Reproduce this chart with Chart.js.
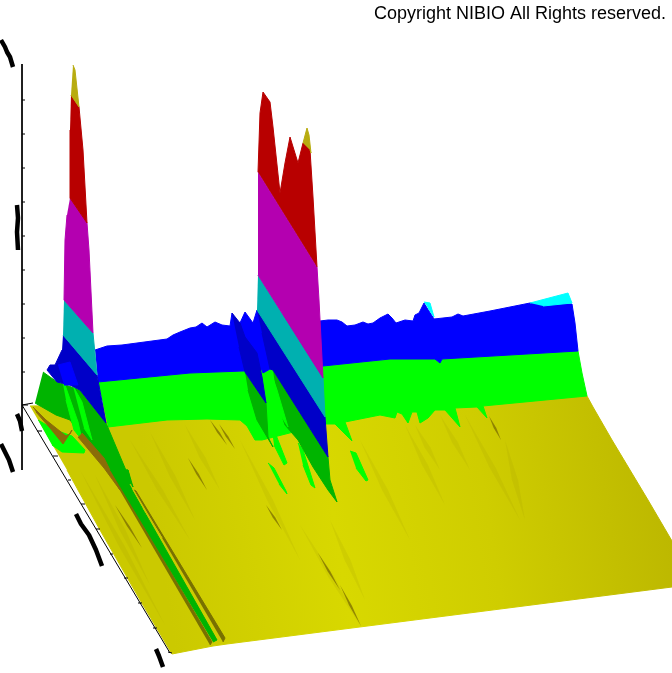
<!DOCTYPE html>
<html>
<head>
<meta charset="utf-8">
<title>NIBIO surface</title>
<script src="https://cdn.jsdelivr.net/npm/chart.js@4"></script>
<style>
  html, body { margin: 0; padding: 0; background: #fff; }
  #box { position: relative; width: 672px; height: 673px; }
</style>
</head>
<body>
<div id="box"><canvas id="surface"></canvas></div>
<script>
// Outlines, [x, y] in the picture's plane
const floorOutline = [[30,406],[100,405],[320,400],[587,396],[593,407],[612,440],[648,500],[672,541],[672,587],[227,644],[213,646],[172,654],[140,600],[100,530],[67,470]];
const greenBand = [[98,382],[140,378],[190,373],[243,371],[323,366],[390,359],[435,359],[440,363],[442,359],[578,351],[582,373],[587,396],[483,406],[487,418],[477,407],[455,408],[460,427],[445,410],[435,410],[428,418],[420,423],[417,412],[412,412],[408,423],[402,414],[397,412],[395,418],[380,415],[345,422],[352,441],[335,424],[325,424],[262,440],[255,440],[247,426],[240,420],[207,419],[167,420],[108,427]];
const blueBand = [[95,350],[107,346],[122,345],[137,343],[152,341],[167,339],[173,335],[180,332],[190,328],[196,327],[202,323],[207,327],[215,322],[222,325],[230,326],[232,313],[237,323],[240,323],[245,312],[253,323],[257,310],[320,321],[328,320],[337,320],[342,322],[347,326],[355,325],[363,322],[368,324],[373,323],[380,318],[388,314],[392,318],[396,323],[405,320],[413,321],[415,315],[419,313],[424,303],[434,319],[452,317],[458,314],[463,316],[490,311],[530,303],[572,304],[575,323],[578,351],[442,359],[440,363],[435,359],[390,359],[323,366],[243,371],[190,373],[98,382]];
const cyanTip = [[530,303],[568,293],[572,303],[543,306]];
const cyanSpur = [[424,302],[430,303],[434,317],[428,308]];
const ridgeRed = [[258,172],[260,113],[263,92],[270,102],[273,127],[280,193],[285,163],[290,137],[298,163],[303,143],[310,150],[313,197],[317,267]];
const ridgeGold = [[303,143],[307,128],[309,135],[311,153],[310,150]];
const ridgeMagenta = [[258,172],[317,267],[319,300],[323,378],[258,275]];
const ridgeCyan = [[258,275],[323,378],[325,417],[257,310]];
const ridgeDarkBlue = [[257,310],[325,417],[328,457],[273,370],[270,369],[262,333]];
const ridgeBlueLeft = [[240,323],[257,323],[270,369],[263,373],[257,353],[245,337]];
const ridgeDarkBlue2 = [[232,313],[240,323],[245,337],[257,353],[262,377],[266,403],[245,372],[239,347]];
const ridgeGreenLeft = [[245,372],[266,403],[268,437],[273,447],[257,420],[248,390]];
const ridgeGreenMain = [[273,370],[328,457],[330,480],[337,502],[328,490],[313,467],[298,440],[285,425],[277,400]];
const ridgeLime = [[263,373],[270,369],[277,390],[288,427],[273,403],[266,390]];
const limeStreaks = [[[268,463],[274,468],[286,491],[287,494],[279,484]],[[350,451],[356,453],[368,480],[366,481],[356,468]],[[298,443],[303,450],[315,488],[311,485],[303,465]],[[270,417],[276,435],[287,463],[284,465],[274,445]]];
const spikeGold = [[73,65],[75,70],[79,107],[71,95]];
const spikeRed = [[71,95],[79,107],[83,150],[87,223],[70,198],[70,130]];
const spikeMagenta = [[70,198],[87,223],[89,250],[93,333],[64,300],[65,240],[67,215]];
const spikeCyan = [[64,300],[93,333],[97,375],[63,335]];
const spikeDarkBlue = [[63,335],[97,375],[106,423],[80,390],[70,385],[57,382],[47,370],[50,365],[55,365],[62,350]];
const spikeBlue = [[58,365],[70,362],[78,385],[64,385]];
const leftGreen = [[43,372],[57,382],[80,390],[106,423],[133,487],[128,470],[110,470],[88,443],[70,420],[56,415],[35,403]];
const stripGreen = [[110,470],[128,470],[132,490],[217,640],[213,642]];
const stripWedge = [[130,484],[142,505],[162,538],[143,508]];
const limePatches = [[[38,420],[55,430],[72,436],[85,450],[84,453],[62,452],[52,445]],[[60,368],[65,385],[78,422],[82,440],[74,430],[66,400]],[[73,386],[82,402],[92,440],[84,428]]];
const brownBands = [[[33,407],[46,420],[66,436],[70,434],[72,430],[63,444],[50,428],[36,412]],[[82,433],[104,458],[120,490],[104,468],[78,437]]];
const darkStrips = [[[108,470],[111,470],[212,642],[210,645]],[[134,490],[136,491],[225,638],[223,642]]];
// Streaks on the floor: start and end of each
const darkStreaks = [[[188,458],[207,490]],[[210,420],[227,445]],[[219,424],[235,449]],[[318,553],[340,590]],[[340,585],[361,626]],[[489,416],[501,440]],[[115,505],[142,548]],[[266,505],[282,530]]];
const faintStreaks = [[[405,425],[445,505]],[[415,425],[440,470]],[[440,415],[470,470]],[[465,415],[520,520]],[[505,440],[525,520]],[[150,432],[195,520]],[[240,440],[300,560]],[[95,475],[150,585]],[[80,470],[165,625]],[[130,440],[190,540]],[[185,425],[220,490]],[[360,440],[410,540]],[[330,520],[365,600]],[[300,525],[362,628]]];
// Axes, null breaks the line between ticks
const valueAxis = [[22,64],[22,470]];
const valueTicks = [[22,100],[25,100],null,[22,134],[25,134],null,[22,168],[25,168],null,[22,202],[25,202],null,[22,236],[25,236],null,[22,270],[25,270],null,[22,304],[25,304],null,[22,338],[25,338],null,[22,372],[25,372],null,[22,405],[33,403]];
const depthAxis = [[22,405],[170,653]];
const depthTicks = [[22,405],[28,405],null,[37,431],[42,431],null,[53,456],[58,456],null,[68,480],[71,480],null,[81,504],[85,504],null,[96,529],[100,529],null,[110,554],[113,554],null,[124,578],[128,578],null,[138,603],[142,603],null,[153,628],[157,628],null,[168,652],[172,653]];
// Axis captions, too small in the picture to read
const captionMarks = [[[1,40],[5,47],[7,52],[10,57],[13,67]],[[17,205],[18,218],[17,232],[18,250]],[[17,414],[20,421],[22,431]],[[1,444],[6,454],[9,460],[13,472]],[[76,514],[81,524],[89,535],[96,550],[102,566]],[[156,649],[159,656],[163,667]]];
const copyright = "Copyright NIBIO All Rights reserved.";

const canvas = document.getElementById("surface");
const ctx2d = canvas.getContext("2d");

const floorFill = ctx2d.createLinearGradient(170, 620, 672, 540);
floorFill.addColorStop(0, "#cbc900");
floorFill.addColorStop(0.35, "#d8d800");
floorFill.addColorStop(0.65, "#cfcd00");
floorFill.addColorStop(1, "#bdb800");

const toPoints = list => list.map(p => p ? { x: p[0], y: p[1] } : { x: NaN, y: NaN });

function area(points, color) {
  return { data: toPoints(points), backgroundColor: color, borderColor: color, borderWidth: 1, fill: "shape", showLine: true, spanGaps: false };
}
function stroke(points, color, width) {
  return { data: toPoints(points), borderColor: color, borderWidth: width, fill: false, showLine: true, spanGaps: false };
}
// a streak swells in the middle and fades to a point at both ends
function spindle(ends, half, color) {
  const [a, b] = ends;
  const midX = (a[0] + b[0]) / 2, midY = (a[1] + b[1]) / 2;
  const outline = [a, [midX + half, midY], b, [midX - half, midY]];
  return { data: toPoints(outline), backgroundColor: color, borderColor: "rgba(0,0,0,0)", borderWidth: 0, fill: "shape", showLine: true };
}

const RED = "#b80000", MAGENTA = "#b400b0", TEAL = "#00b0b0", NAVY = "#0000c8", BLUE = "#0000ff", LIME = "#00ff00", GREEN = "#00b400", GOLD = "#b8ac10", CYAN = "#00ffff";

const datasets = [
  area(floorOutline, floorFill),
  ...faintStreaks.map(s => spindle(s, 3, "rgba(150,140,0,0.12)")),
  ...darkStreaks.map(s => spindle(s, 1.3, "rgba(115,100,0,0.7)")),
  area(greenBand, LIME),
  area(blueBand, BLUE),
  area(cyanTip, CYAN),
  area(cyanSpur, CYAN),
  ...darkStrips.map(s => area(s, "#787000")),
  area(leftGreen, GREEN),
  ...limePatches.map(s => area(s, LIME)),
  ...brownBands.map(s => area(s, "#8a6c08")),
  area(stripGreen, GREEN),
  area(stripWedge, "#c8c400"),
  area(spikeDarkBlue, NAVY),
  area(spikeBlue, BLUE),
  area(spikeCyan, TEAL),
  area(spikeMagenta, MAGENTA),
  area(spikeRed, RED),
  area(spikeGold, GOLD),
  ...limeStreaks.map(s => area(s, LIME)),
  area(ridgeGreenLeft, GREEN),
  area(ridgeGreenMain, GREEN),
  area(ridgeLime, LIME),
  area(ridgeBlueLeft, BLUE),
  area(ridgeDarkBlue2, NAVY),
  area(ridgeDarkBlue, NAVY),
  area(ridgeCyan, TEAL),
  area(ridgeMagenta, MAGENTA),
  area(ridgeRed, RED),
  area(ridgeGold, GOLD),
  stroke(valueAxis, "#000", 1),
  stroke(valueTicks, "#000", 1),
  stroke(depthAxis, "#000", 1),
  stroke(depthTicks, "#000", 1),
  ...captionMarks.map(s => stroke(s, "#000", 4.5))
];
// later entries sit on top
datasets.forEach((d, i) => { d.order = datasets.length - i; });

const copyrightNote = {
  id: "copyrightNote",
  afterDraw(chart) {
    const c = chart.ctx;
    c.save();
    c.font = '18px "Liberation Sans"';
    c.fillStyle = "#000";
    c.textAlign = "right";
    c.textBaseline = "alphabetic";
    c.fillText(copyright, 666, 19);
    c.restore();
  }
};

new Chart(canvas, {
  type: "scatter",
  data: { datasets },
  plugins: [copyrightNote],
  options: {
    responsive: true,
    maintainAspectRatio: false,
    animation: false,
    layout: { padding: 0 },
    elements: { point: { radius: 0 }, line: { tension: 0, borderJoinStyle: "round" } },
    plugins: { legend: { display: false }, tooltip: { enabled: false } },
    scales: {
      x: { type: "linear", min: 0, max: 672, display: false },
      y: { type: "linear", min: 0, max: 673, reverse: true, display: false }
    }
  }
});
</script>
</body>
</html>
